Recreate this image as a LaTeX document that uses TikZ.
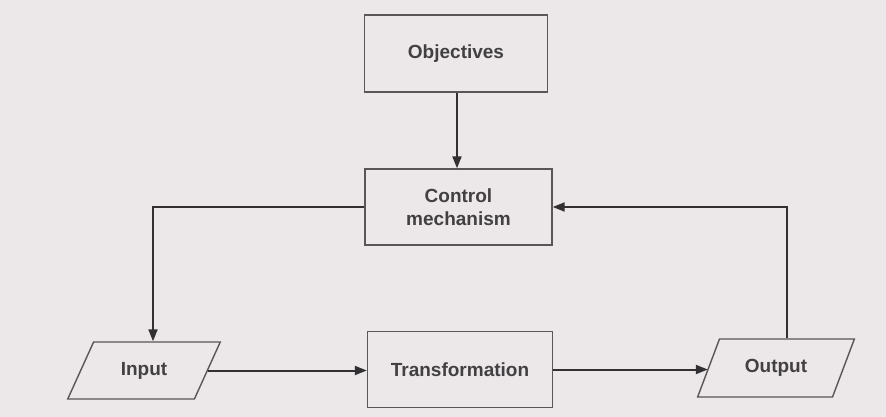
\documentclass[tikz,border=0pt]{standalone}
\usepackage{fontspec}
\setmainfont{Liberation Sans}
\usetikzlibrary{shapes.geometric,arrows.meta}
\definecolor{paper}{RGB}{236,232,233}
\definecolor{ink}{RGB}{50,48,50}
\definecolor{lettering}{RGB}{66,64,66}
\definecolor{edge}{RGB}{88,86,88}
\begin{document}
\begin{tikzpicture}[x=1pt,y=-1pt,
  txt/.style={font=\fontsize{19}{23}\selectfont\bfseries, text=lettering, align=center, inner sep=0pt},
  blockbox/.style={txt, draw=edge, line width=1.4pt, minimum width=185pt, minimum height=76pt},
  slantbox/.style={txt, draw=edge, line width=1.4pt, trapezium, trapezium left angle=55,
    trapezium right angle=125, trapezium stretches=true, minimum width=153pt, minimum height=57pt},
  flow/.style={draw=ink, line width=2pt, -{Triangle[length=12pt,width=9pt]}}]
  \fill[paper] (0,0) rectangle (886,417);
  \useasboundingbox (0,0) rectangle (886,417);

  \node[blockbox, minimum width=183pt, minimum height=77pt] (obj) at (456,53.5) {Objectives};
  \node[blockbox, minimum width=187pt] (ctrl) at (458.5,207) {Control\\mechanism};
  \node[blockbox] (trans) at (460,369.5) {Transformation};
  \node[slantbox] (in) at (144,370.5) {Input};
  \node[slantbox, minimum width=158pt, minimum height=58pt] (out) at (776,368) {Output};

  \coordinate (lc) at (153,207);
  \coordinate (rc) at (787,207);
  \coordinate (drop) at (457,0);

  \draw[flow] (obj.south -| drop) -- (ctrl.north -| drop);
  \draw[flow] (ctrl.west) -- (lc) -- (in.north -| lc);
  \draw[flow] (in.east) -- (in.east -| trans.west);
  \draw[flow] (trans.east) -- (out.west |- trans.east);
  \draw[flow] (out.north -| rc) -- (rc) -- (ctrl.east);
\end{tikzpicture}
\end{document}
